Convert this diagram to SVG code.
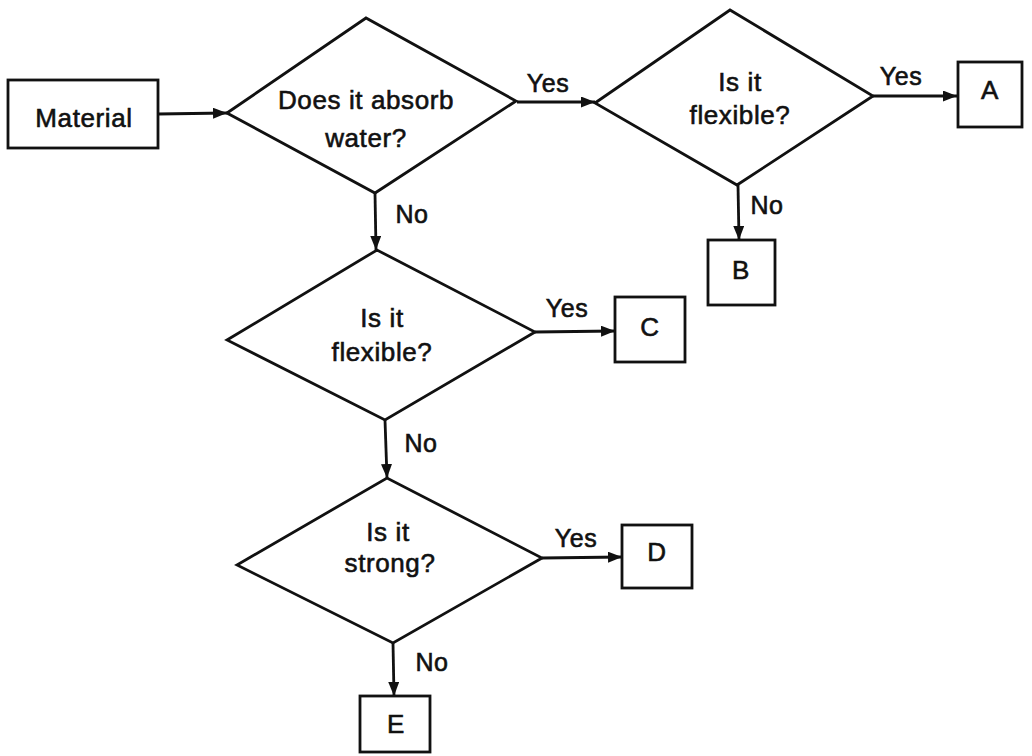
<svg xmlns="http://www.w3.org/2000/svg" width="1032" height="756" viewBox="0 0 1032 756">
<defs>
<style>
.shape{fill:none;stroke:#111;stroke-width:2.8;stroke-linejoin:miter}
.box{fill:#fff;stroke:#111;stroke-width:2.8}
.t{font-family:"Liberation Sans",Arial,sans-serif;font-size:26px;letter-spacing:0.6px;fill:#111;stroke:#111;stroke-width:0.6;text-anchor:middle}
.lbl{font-family:"Liberation Sans",Arial,sans-serif;font-size:25px;letter-spacing:0.5px;fill:#111;stroke:#111;stroke-width:0.6;text-anchor:middle}
.edge{fill:none;stroke:#111;stroke-width:2.8;marker-end:url(#arr)}
</style>
<marker id="arr" viewBox="0 0 14 11" refX="14" refY="5.5" markerWidth="14" markerHeight="11" markerUnits="userSpaceOnUse" orient="auto">
<path d="M0,0 L14,5.5 L0,11 Z" fill="#111"/>
</marker>
</defs>
<rect width="1032" height="756" fill="#fff"/>
<g id="connectors">
<line class="edge" x1="158" y1="114" x2="227" y2="113"/>
<line class="edge" x1="517" y1="102" x2="595" y2="102"/>
<line class="edge" x1="873" y1="96" x2="957" y2="96"/>
<line class="edge" x1="738" y1="185" x2="739" y2="240"/>
<line class="edge" x1="375" y1="193" x2="376" y2="250"/>
<line class="edge" x1="535" y1="332" x2="615" y2="331"/>
<line class="edge" x1="385" y1="420" x2="387" y2="478"/>
<line class="edge" x1="542" y1="558" x2="622" y2="557"/>
<line class="edge" x1="393" y1="643" x2="394" y2="696"/>
<text class="lbl" x="548" y="92">Yes</text>
<text class="lbl" x="901" y="85">Yes</text>
<text class="lbl" x="767" y="214">No</text>
<text class="lbl" x="412" y="223">No</text>
<text class="lbl" x="567" y="317">Yes</text>
<text class="lbl" x="421" y="452">No</text>
<text class="lbl" x="576" y="547">Yes</text>
<text class="lbl" x="432" y="671">No</text>
</g>
<g id="material">
<rect class="box" x="8" y="80" width="150" height="68"/>
<text class="t" x="84" y="127">Material</text>
</g>
<g id="q-absorb">
<polygon class="shape" points="227,113 366,18 516,101 375,193"/>
<text class="t" x="366" y="109">Does it absorb</text>
<text class="t" x="366" y="147">water?</text>
</g>
<g id="q-flexible-1">
<polygon class="shape" points="595,103 730,10 873,96 737,185"/>
<text class="t" x="740" y="91">Is it</text>
<text class="t" x="740" y="124">flexible?</text>
</g>
<g id="q-flexible-2">
<polygon class="shape" points="227,340 377,250 535,332 385,420"/>
<text class="t" x="382" y="327">Is it</text>
<text class="t" x="382" y="361">flexible?</text>
</g>
<g id="q-strong">
<polygon class="shape" points="237,565 387,478 542,558 393,643"/>
<text class="t" x="388" y="541">Is it</text>
<text class="t" x="390" y="572">strong?</text>
</g>
<g id="A">
<rect class="box" x="958" y="62" width="64" height="65"/>
<text class="t" x="990" y="99">A</text>
</g>
<g id="B">
<rect class="box" x="708" y="240" width="67" height="65"/>
<text class="t" x="741" y="279">B</text>
</g>
<g id="C">
<rect class="box" x="615" y="297" width="70" height="65"/>
<text class="t" x="650" y="336">C</text>
</g>
<g id="D">
<rect class="box" x="622" y="525" width="70" height="63"/>
<text class="t" x="657" y="561">D</text>
</g>
<g id="E">
<rect class="box" x="360" y="696" width="70" height="56"/>
<text class="t" x="396" y="733">E</text>
</g>
</svg>
